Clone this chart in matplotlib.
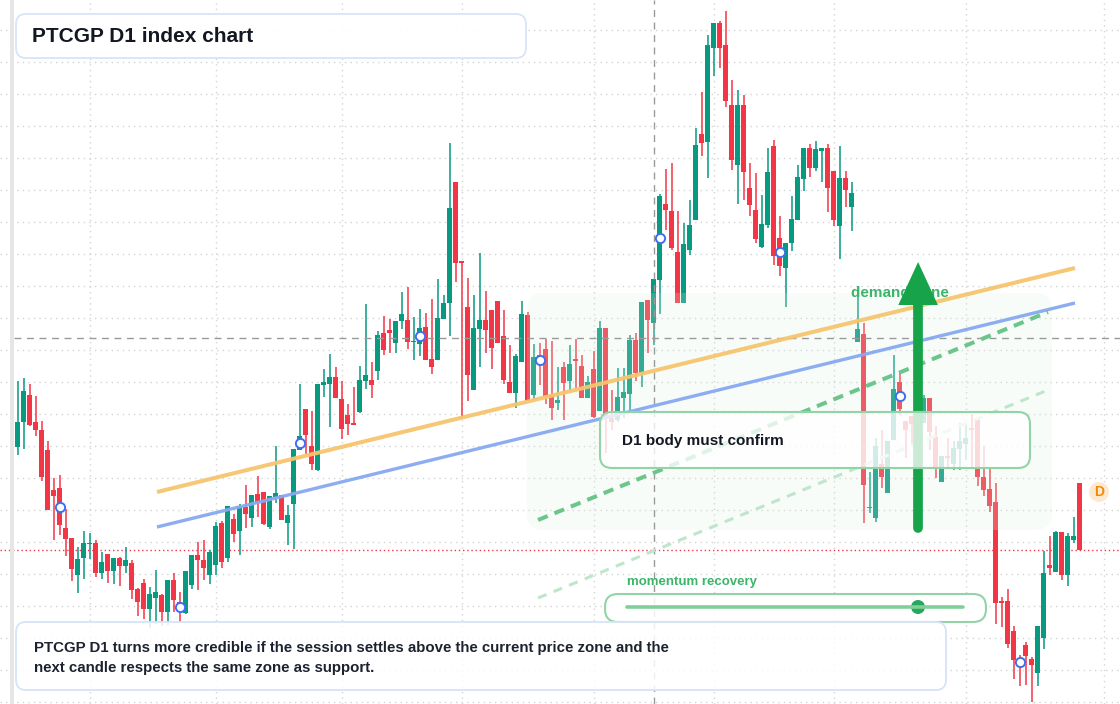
import matplotlib
matplotlib.use("Agg")
import matplotlib.pyplot as plt
from matplotlib.patches import FancyBboxPatch, Circle, Rectangle, Polygon
import numpy as np

plt.rcParams['font.family'] = ['Liberation Sans', 'DejaVu Sans']

# D1 candles (index units, no axis labels on the chart)
opens = [257, 282, 309, 282, 274, 254, 214, 216, 176, 166,
         129, 146, 160, 161, 131, 150, 133, 146, 138, 141,
         115, 121, 95, 106, 109, 92, 124, 102, 91, 119,
         149, 144, 129, 139, 181, 146, 185, 173, 197, 186,
         210, 212, 177, 207, 209, 181, 200, 254, 295, 258,
         234, 319, 320, 327, 305, 289, 281, 292, 323, 324,
         333, 371, 374, 361, 383, 384, 362, 360, 377, 345,
         344, 385, 401, 522, 443, 397, 314, 375, 384, 394,
         403, 368, 322, 311, 342, 389, 309, 349, 355, 309,
         301, 337, 323, 345, 338, 306, 335, 293, 376, 286,
         284, 306, 310, 364, 331, 404, 381, 424, 500, 493,
         452, 401, 454, 484, 570, 562, 656, 681, 659, 599,
         539, 599, 516, 494, 457, 479, 558, 466, 436, 461,
         484, 525, 556, 536, 553, 556, 533, 478, 526, 497,
         362, 370, 196, 186, 240, 211, 264, 322, 283, 288,
         274, 281, 306, 267, 222, 248, 240, 255, 260, 276,
         286, 227, 215, 202, 103, 103, 73, 46, 59, 45,
         31, 66, 139, 132, 172, 129, 164, 221]
highs = [323, 326, 320, 308, 283, 263, 226, 229, 195, 166,
         157, 173, 171, 164, 152, 150, 146, 147, 157, 144,
         116, 125, 117, 134, 110, 124, 131, 112, 133, 149,
         162, 164, 154, 182, 183, 198, 190, 200, 219, 209,
         228, 212, 208, 258, 209, 199, 255, 320, 295, 293,
         320, 335, 350, 337, 323, 300, 317, 338, 400, 342,
         373, 388, 385, 383, 412, 417, 387, 395, 391, 405,
         425, 409, 561, 522, 443, 426, 409, 451, 413, 394,
         403, 394, 359, 350, 403, 392, 360, 361, 365, 363,
         337, 342, 359, 365, 349, 328, 353, 383, 376, 314,
         336, 336, 369, 371, 402, 404, 425, 510, 535, 541,
         493, 481, 504, 576, 612, 669, 681, 683, 693, 624,
         614, 609, 541, 531, 509, 556, 564, 488, 461, 508,
         539, 556, 560, 563, 556, 560, 533, 558, 533, 522,
         418, 381, 232, 266, 274, 263, 349, 331, 283, 288,
         314, 309, 306, 278, 248, 266, 263, 281, 280, 290,
         286, 258, 236, 221, 107, 115, 78, 49, 62, 47,
         78, 153, 168, 173, 172, 171, 187, 221]
lows = [249, 255, 278, 268, 223, 194, 164, 169, 148, 123,
        111, 125, 145, 127, 125, 121, 120, 118, 131, 105,
        88, 85, 76, 80, 78, 79, 92, 82, 90, 115,
        114, 124, 120, 129, 136, 142, 162, 149, 176, 177,
        187, 179, 175, 201, 184, 159, 155, 254, 250, 234,
        233, 307, 277, 306, 265, 269, 279, 291, 315, 306,
        324, 349, 351, 351, 375, 355, 344, 348, 344, 330,
        344, 385, 368, 422, 286, 303, 314, 337, 351, 335,
        361, 320, 311, 296, 342, 303, 304, 319, 300, 284,
        294, 284, 313, 315, 306, 306, 286, 293, 251, 274,
        282, 286, 294, 323, 317, 351, 359, 390, 474, 454,
        401, 401, 449, 484, 548, 526, 628, 636, 597, 534,
        500, 504, 488, 461, 456, 476, 439, 428, 397, 453,
        484, 513, 527, 533, 522, 492, 478, 445, 497, 473,
        362, 181, 191, 182, 216, 211, 264, 289, 246, 259,
        264, 281, 254, 226, 222, 237, 234, 234, 244, 236,
        218, 208, 192, 80, 77, 56, 25, 18, 19, 2,
        18, 55, 129, 132, 124, 118, 161, 154]
closes = [282, 313, 279, 274, 227, 194, 208, 179, 165, 135,
          145, 161, 161, 131, 142, 133, 146, 138, 144, 114,
          102, 95, 110, 112, 92, 124, 104, 92, 133, 149,
          144, 136, 152, 178, 142, 198, 170, 197, 190, 209,
          201, 180, 208, 211, 184, 189, 255, 268, 269, 240,
          320, 322, 327, 306, 275, 280, 279, 324, 329, 319,
          369, 354, 371, 383, 390, 362, 363, 376, 344, 337,
          386, 401, 496, 441, 441, 329, 376, 384, 374, 356,
          361, 324, 311, 348, 390, 303, 347, 339, 308, 296,
          304, 321, 340, 343, 306, 322, 287, 376, 286, 282,
          307, 312, 364, 331, 402, 384, 425, 508, 494, 456,
          401, 460, 479, 559, 561, 659, 681, 656, 603, 544,
          599, 532, 499, 465, 480, 532, 448, 438, 461, 485,
          527, 556, 536, 555, 556, 516, 484, 526, 514, 511,
          375, 219, 197, 258, 227, 263, 315, 295, 274, 280,
          304, 306, 272, 235, 248, 246, 256, 263, 266, 274,
          227, 214, 198, 101, 101, 60, 44, 38, 48, 39,
          78, 131, 136, 172, 129, 168, 168, 154]

month_ticks = [12, 33, 54, 74, 96, 116, 136, 158, 181]
cross_idx, cross_price = 106, 366
support_line = [(23.25, 212), (176.25, 436)]
lower_line = [(23.25, 177), (176.25, 401)]
guide_main = [(86.75, 184), (171.75, 392)]
guide_soft = [(86.75, 106), (171.75, 314)]

GREEN = "#089981"
RED = "#f23645"

o = np.array(opens, float)
h = np.array(highs, float)
l = np.array(lows, float)
c = np.array(closes, float)
n = len(o)
idx = np.arange(n)

fig = plt.figure(figsize=(11.2, 7.04), dpi=100)
ax = fig.add_axes([0, 0, 1, 1])
ax.set_xlim(-17.5 / 6, (1120 - 17.5) / 6)
ax.set_ylim(0, 704)
ax.set_xticks(month_ticks)
ax.set_yticks(np.arange(2, 704, 32))
ax.grid(True, color="#d4d4d4", linestyle=(0, (1, 3)), lw=1)
ax.set_axisbelow(True)
ax.tick_params(length=0, labelbottom=False, labelleft=False)
for s in ax.spines.values():
    s.set_visible(False)

cols = np.where(c >= o, GREEN, RED)
ax.vlines(idx, l, h, colors=cols, lw=1.1, zorder=2)
ax.bar(idx, np.maximum(np.abs(c - o), 1.5), bottom=np.minimum(o, c),
       width=0.8, color=cols, lw=0, zorder=2.1)

# last price + crosshair
ax.axhline(c[-1], color=RED, lw=1, linestyle=(0, (1, 2)), zorder=1.5)
ax.axvline(cross_idx, color="#9a9a9a", lw=1, linestyle=(0, (5, 4)), zorder=4)
ax.axhline(cross_price, xmin=14 / 1120, color="#9a9a9a", lw=1,
           linestyle=(0, (5, 4)), zorder=4)

# demand zone
zone = FancyBboxPatch((84.9, 174), 87.5, 237, boxstyle="round,pad=0,rounding_size=2.7",
                      mutation_aspect=6, fc="#dcf2e3", ec="none", alpha=0.2, zorder=3)
ax.add_patch(zone)

# trend lines
ax.plot(*zip(*support_line), color="#f6c46e", lw=2.9, alpha=0.95, zorder=4,
        solid_capstyle="butt")
ax.plot(*zip(*lower_line), color="#86a9f2", lw=2.4, alpha=0.95, zorder=4,
        solid_capstyle="butt")
ax.plot(*zip(*guide_main), color="#6cc58b", lw=2.9, linestyle=(0, (2.6, 1.8)), zorder=4)
ax.plot(*zip(*guide_soft), color="#bfe6cb", lw=2.2, linestyle=(0, (3, 2.5)), zorder=4)

# every 20th candle marker
mk = np.arange(7, n, 20)
ax.scatter(mk, (o[mk] + c[mk]) / 2, s=44, facecolor="white", edgecolor="#3f6ff0",
           lw=1.4, zorder=6)

# demand label and arrow
ax.text(138.9, 411, "demand zone", color="#3cb46a", fontsize=11, fontweight="bold",
        va="center", ha="left", zorder=5)
ax.plot([150.1, 150.1], [176, 400], color="#16a34a", lw=7, solid_capstyle="round", zorder=7)
ax.add_patch(Polygon([(146.8, 399), (153.4, 399), (150.1, 442)], closed=True,
                     fc="#16a34a", ec="none", zorder=7))

# overlay in pixel space for the panels
ov = fig.add_axes([0, 0, 1, 1], zorder=5)
ov.set_xlim(0, 1120)
ov.set_ylim(704, 0)
ov.axis("off")
ov.patch.set_alpha(0)

ov.add_patch(Rectangle((10, 0), 4, 704, fc="#e6e6e6", ec="none"))

ov.add_patch(FancyBboxPatch((16, 14), 510, 44, boxstyle="round,pad=0,rounding_size=10",
                            fc="white", ec="#d6e4f7", lw=1.3, alpha=0.95))
ov.text(32, 36.5, "PTCGP D1 index chart", fontsize=15, fontweight="bold",
        color="#131722", va="center")

ov.add_patch(FancyBboxPatch((600, 412), 430, 56, boxstyle="round,pad=0,rounding_size=12",
                            fc=(1, 1, 1, 0.78), ec="#93d4a7", lw=1.5))
ov.text(622, 441, "D1 body must confirm", fontsize=11, fontweight="bold",
        color="#131722", va="center")

ov.add_patch(FancyBboxPatch((605, 594), 381, 28, boxstyle="round,pad=0,rounding_size=13",
                            fc=(1, 1, 1, 0.85), ec="#93d4a7", lw=1.5))
ov.text(627, 582, "momentum recovery", fontsize=9.5, fontweight="bold",
        color="#3cb46a", va="center")
ov.plot([627, 963], [607, 607], color="#7fcf9a", lw=2.6, solid_capstyle="round")
ov.add_patch(Circle((918, 607), 7, fc="#27a85a", ec="none"))

ov.add_patch(FancyBboxPatch((16, 622), 930, 68, boxstyle="round,pad=0,rounding_size=10",
                            fc=(1, 1, 1, 0.85), ec="#d6e4f7", lw=1.3))
ov.text(34, 658, "PTCGP D1 turns more credible if the session settles above the current price zone and the\n"
        "next candle respects the same zone as support.", fontsize=10.8, fontweight="bold",
        color="#1d2230", va="center", linespacing=1.6)

ov.add_patch(Circle((1099, 492), 10, fc="#fde9d2", ec="none"))
ov.text(1099, 492.5, "D", fontsize=10, fontweight="bold", color="#f08a00",
        ha="center", va="center")

fig.savefig("out.png", dpi=100)
